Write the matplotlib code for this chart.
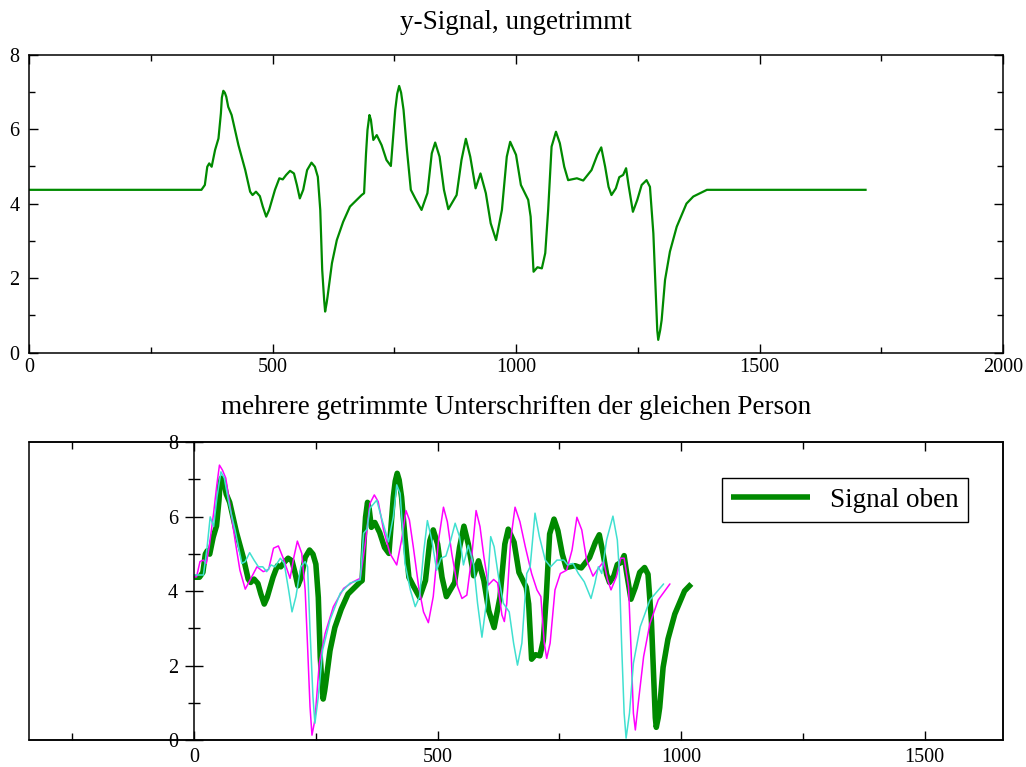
import numpy as np
import matplotlib
matplotlib.use("Agg")
import matplotlib.pyplot as plt
from matplotlib.patches import Rectangle
from matplotlib.ticker import MultipleLocator

GREEN = "#008a00"
MAGENTA = "#ff00ff"
CYAN = "#40e0d0"

plt.rcParams.update({
    "font.family": "serif",
    "font.serif": ["Liberation Serif", "DejaVu Serif"],
    "font.size": 14.5,
    "axes.linewidth": 1.1,
    "lines.solid_joinstyle": "round",
    "lines.solid_capstyle": "round",
})

# rest level of the pen signal and the untrimmed recording length
BASELINE = 4.37
RECORD_END = 1720
TRIM_START = 343
TRIM_END = 1367

# y-signal of the upper signature (untrimmed sample index)
sig_x = [354, 361, 366, 370, 375, 382, 389, 394, 396, 399, 402, 405, 409, 416,
         430, 444, 454, 459, 466, 474, 480, 487, 493, 505, 514, 521, 528, 536,
         544, 550, 556, 563, 571, 580, 587, 593, 598, 602, 606, 608, 611, 613,
         622, 632, 645, 659, 673, 683, 688, 692, 695, 699, 702, 707, 714, 724,
         734, 743, 752, 756, 760, 764, 769, 776, 784, 793, 806, 818, 827, 834,
         843, 852, 861, 878, 888, 897, 906, 917, 927, 938, 948, 959, 971, 981,
         988, 1000, 1010, 1025, 1030, 1036, 1044, 1053, 1060, 1066, 1073, 1082,
         1090, 1099, 1107, 1125, 1138, 1155, 1167, 1175, 1183, 1190, 1196, 1205,
         1212, 1220, 1226, 1231, 1240, 1249, 1258, 1268, 1275, 1282, 1287, 1290,
         1292, 1296, 1299, 1306, 1316, 1330, 1350, 1364, 1378, 1392]
sig_y = [4.37, 4.50, 4.99, 5.08, 4.99, 5.44, 5.75, 6.43, 6.85, 7.03, 6.98, 6.87,
         6.60, 6.38, 5.57, 4.90, 4.32, 4.23, 4.32, 4.20, 3.92, 3.65, 3.83, 4.37,
         4.68, 4.65, 4.77, 4.88, 4.81, 4.50, 4.14, 4.37, 4.90, 5.10, 4.99, 4.72,
         3.83, 2.22, 1.41, 1.10, 1.32, 1.50, 2.40, 3.02, 3.51, 3.92, 4.10, 4.23,
         4.28, 5.35, 5.98, 6.38, 6.25, 5.71, 5.84, 5.57, 5.17, 5.01, 6.52, 6.95,
         7.16, 6.98, 6.52, 5.44, 4.37, 4.14, 3.83, 4.28, 5.35, 5.64, 5.26, 4.37,
         3.85, 4.23, 5.17, 5.74, 5.26, 4.41, 4.81, 4.28, 3.47, 3.02, 3.83, 5.26,
         5.66, 5.31, 4.50, 4.10, 3.65, 2.17, 2.29, 2.26, 2.67, 3.83, 5.53, 5.93,
         5.62, 4.99, 4.63, 4.68, 4.62, 4.90, 5.31, 5.51, 4.99, 4.45, 4.23, 4.41,
         4.71, 4.77, 4.95, 4.50, 3.78, 4.10, 4.50, 4.63, 4.45, 3.20, 1.59, 0.60,
         0.34, 0.60, 0.87, 1.95, 2.71, 3.38, 4.00, 4.19, 4.28, 4.37]

# other trimmed signatures of the same person
mag_x = [0, 5, 12, 19, 25, 31, 40, 47, 52, 58, 65, 74, 84, 94, 105, 115, 129,
         142, 153, 163, 173, 183, 197, 205, 212, 221, 228, 233, 238, 242, 248,
         257, 269, 286, 307, 327, 341, 351, 361, 370, 378, 389, 402, 416, 426,
         435, 442, 450, 461, 471, 481, 491, 502, 512, 520, 529, 541, 550, 560,
         570, 579, 587, 595, 604, 615, 623, 632, 637, 642, 650, 659, 669, 680,
         693, 704, 712, 719, 724, 731, 741, 752, 765, 776, 786, 796, 806, 819,
         830, 841, 849, 856, 867, 876, 883, 892, 897, 902, 906, 912, 923, 936,
         953, 977]
mag_y = [4.38, 4.38, 4.79, 4.83, 4.74, 5.19, 6.09, 6.89, 7.38, 7.25, 7.03, 6.26,
         5.37, 4.56, 4.05, 4.30, 4.65, 4.52, 4.58, 5.15, 5.21, 4.88, 4.34, 4.92,
         5.34, 5.01, 4.03, 2.50, 0.89, 0.13, 0.54, 2.06, 2.86, 3.58, 4.07, 4.25,
         4.34, 5.23, 6.35, 6.58, 6.40, 5.64, 5.01, 4.70, 5.37, 6.16, 5.91, 5.19,
         4.12, 3.44, 3.15, 3.85, 5.37, 6.25, 5.86, 5.01, 4.12, 3.80, 3.89, 4.92,
         6.16, 5.73, 4.92, 4.16, 4.31, 4.22, 3.36, 3.18, 3.67, 5.37, 6.25, 5.86,
         5.19, 4.47, 4.03, 3.85, 2.60, 2.19, 2.60, 4.03, 4.47, 4.56, 5.10, 5.98,
         5.64, 4.83, 4.40, 4.61, 4.79, 4.30, 4.03, 4.38, 4.88, 4.88, 4.12, 2.50,
         0.72, 0.27, 0.99, 2.24, 3.13, 3.76, 4.19]

cyan_x = [0, 5, 19, 26, 33, 40, 47, 55, 62, 72, 84, 98, 105, 114, 123, 132, 141,
          149, 158, 166, 177, 185, 194, 201, 209, 219, 228, 233, 238, 244, 248,
          255, 264, 279, 300, 320, 341, 348, 355, 361, 375, 385, 399, 409, 416,
          423, 433, 444, 454, 463, 471, 479, 488, 498, 507, 517, 527, 536, 545,
          553, 563, 574, 582, 591, 600, 609, 616, 625, 635, 647, 656, 664, 673,
          683, 690, 700, 709, 721, 732, 745, 759, 767, 778, 789, 801, 815, 823,
          830, 837, 847, 860, 869, 873, 878, 883, 887, 894, 902, 916, 936, 964]
cyan_y = [4.43, 4.43, 4.43, 5.10, 5.99, 5.73, 6.53, 7.20, 7.03, 6.31, 5.64, 4.74,
          4.79, 5.03, 4.83, 4.65, 4.65, 4.52, 4.70, 4.65, 4.88, 4.74, 4.03, 3.44,
          3.85, 4.65, 4.79, 4.65, 2.95, 1.16, 0.45, 1.16, 2.42, 3.22, 3.94, 4.21,
          4.30, 5.55, 5.66, 6.22, 6.44, 5.95, 5.32, 5.99, 6.85, 6.62, 4.74, 4.03,
          3.58, 3.85, 5.01, 5.89, 5.37, 4.56, 4.88, 4.94, 5.37, 5.82, 5.46, 4.70,
          5.23, 4.70, 3.67, 2.76, 3.67, 5.46, 5.19, 4.38, 3.67, 3.44, 2.60, 2.01,
          2.60, 4.47, 4.65, 6.09, 5.46, 4.83, 4.65, 4.83, 4.83, 4.70, 4.74, 4.47,
          4.25, 3.80, 4.21, 4.65, 4.47, 5.37, 6.01, 5.37, 4.56, 2.50, 0.72, 0.05,
          0.72, 2.06, 3.04, 3.76, 4.19]

sig_x = np.array(sig_x)
sig_y = np.array(sig_y)
top_x = np.r_[0, sig_x, RECORD_END]
top_y = np.r_[BASELINE, sig_y, BASELINE]
keep = sig_x <= TRIM_END
trim_x = np.r_[TRIM_START, sig_x[keep]] - TRIM_START
trim_y = np.r_[BASELINE, sig_y[keep]]

fig = plt.figure(figsize=(10.26, 7.67), dpi=100)
ax1 = fig.add_axes([0.0283, 0.5404, 0.9493, 0.3883])
ax2 = fig.add_axes([0.0283, 0.0352, 0.9493, 0.3885])

# upper panel: untrimmed signal
ax1.plot(top_x, top_y, color=GREEN, linewidth=1.6, solid_capstyle="butt")
ax1.set_xlim(0, 2000)
ax1.set_ylim(0, 8)
ax1.xaxis.set_major_locator(MultipleLocator(500))
ax1.xaxis.set_minor_locator(MultipleLocator(250))
ax1.yaxis.set_major_locator(MultipleLocator(2))
ax1.yaxis.set_minor_locator(MultipleLocator(1))
ax1.tick_params(which="both", direction="in", top=True, right=True, width=1.0)
ax1.tick_params(which="major", length=6.5)
ax1.tick_params(which="minor", length=4.3)
ax1.tick_params(axis="x", pad=4)
ax1.tick_params(axis="y", pad=7)
fig.text(0.503, 0.971, "y-Signal, ungetrimmt", ha="center", va="center",
         fontsize=19.5)

# lower panel: trimmed signatures
ax2.plot(trim_x, trim_y, color=GREEN, linewidth=4.0, label="Signal oben",
         solid_capstyle="butt")
ax2.plot(mag_x, mag_y, color=MAGENTA, linewidth=1.1)
ax2.plot(cyan_x, cyan_y, color=CYAN, linewidth=1.1)
ax2.set_xlim(-339, 1661)
ax2.set_ylim(0, 8)
ax2.spines["left"].set_position(("data", 0))
ax2.add_patch(Rectangle((0, 0), 1, 1, transform=ax2.transAxes, fill=False,
                        edgecolor="black", linewidth=1.1, clip_on=False))
ax2.xaxis.set_major_locator(MultipleLocator(500))
ax2.xaxis.set_minor_locator(MultipleLocator(250))
ax2.yaxis.set_major_locator(MultipleLocator(2))
ax2.yaxis.set_minor_locator(MultipleLocator(1))
ax2.tick_params(axis="x", which="both", direction="in", top=True, width=1.0,
                pad=6)
ax2.tick_params(axis="x", which="major", length=6.5)
ax2.tick_params(axis="x", which="minor", length=5)
ax2.tick_params(axis="y", which="both", direction="inout", width=1.0, pad=5)
ax2.tick_params(axis="y", which="major", length=13)
ax2.tick_params(axis="y", which="minor", length=8.6)
fig.text(0.503, 0.469, "mehrere getrimmte Unterschriften der gleichen Person",
         ha="center", va="center", fontsize=19.5)

leg = ax2.legend(loc="upper right", bbox_to_anchor=(0.964, 0.879),
                 borderaxespad=0, fancybox=False, framealpha=1,
                 edgecolor="black", fontsize=19.5, handlelength=2.9,
                 handletextpad=0.75, borderpad=0.35)
leg.get_frame().set_linewidth(1.0)

fig.savefig("out.png", dpi=100)
